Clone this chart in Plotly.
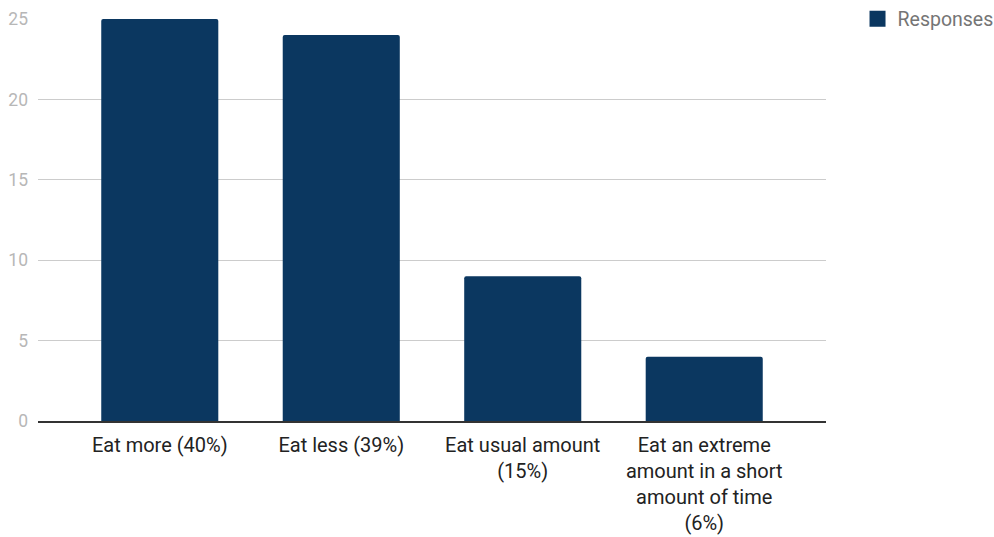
import plotly.graph_objects as go

categories = [
    "Eat more (40%)",
    "Eat less (39%)",
    "Eat usual amount<br>(15%)",
    "Eat an extreme<br>amount in a short<br>amount of time<br>(6%)",
]
responses = [25, 24, 9, 4]
series_name = "Responses"
bar_color = "#0b3760"
y_ticks = [0, 5, 10, 15, 20, 25]

fig = go.Figure()
fig.add_trace(go.Bar(
    x=list(range(len(categories))),
    y=responses,
    name=series_name,
    marker=dict(color=bar_color, cornerradius=2, line=dict(width=0)),
    width=0.645,
    showlegend=False,
    hovertemplate="%{y}<extra></extra>",
))
# legend entry with a larger square swatch
fig.add_trace(go.Scatter(
    x=[None], y=[None], mode="markers", name=series_name,
    marker=dict(symbol="square", size=20, color=bar_color),
    showlegend=True,
))

fig.update_layout(
    width=994, height=537,
    margin=dict(l=38, r=168, t=19, b=116, autoexpand=False),
    paper_bgcolor="white", plot_bgcolor="white",
    font=dict(family="Roboto", size=20, color="#222222"),
    legend=dict(
        x=1.04, y=1.0, xanchor="left", yanchor="middle",
        font=dict(size=19.5, color="#757575"),
        itemsizing="trace",
    ),
)
fig.update_xaxes(
    tickmode="array",
    tickvals=list(range(len(categories))),
    ticktext=categories,
    range=[-0.5 - 0.171, len(categories) - 0.5 + 0.171],
    showgrid=False, zeroline=False,
    showline=True, linecolor="#333333", linewidth=1.5,
    ticks="", ticklabelstandoff=5,
    tickfont=dict(size=20, color="#222222"),
)
fig.update_yaxes(
    range=[0, 25],
    tickvals=y_ticks,
    showgrid=True, gridcolor="#cccccc", gridwidth=1,
    zeroline=False, showline=False,
    ticks="", ticklabelstandoff=9,
    tickfont=dict(size=17.5, color="#b7b7b7"),
)

fig.write_html("out.html")
